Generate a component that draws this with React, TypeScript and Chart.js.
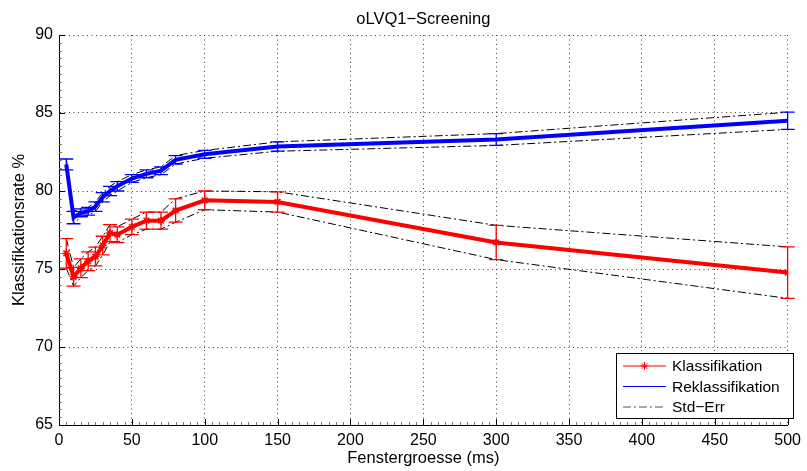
import React, { useEffect, useRef } from "react";
import { Chart, registerables } from "chart.js";

Chart.register(...registerables);

// ---- data ----
const windowSizes = [5, 10, 15, 20, 25, 30, 35, 40, 50, 60, 70, 80, 100, 150, 300, 500];
const klassMean = [76.0, 74.5, 75.05, 75.5, 75.8, 76.5, 77.3, 77.2, 77.7, 78.1, 78.1, 78.75, 79.4, 79.3, 76.7, 74.77];
const klassErr = [0.95, 0.6, 0.6, 0.6, 0.6, 0.6, 0.55, 0.5, 0.5, 0.55, 0.55, 0.75, 0.6, 0.65, 1.1, 1.65];
const reklassMean = [81.7, 78.3, 78.6, 78.7, 79.0, 79.6, 80.0, 80.3, 80.8, 81.1, 81.3, 82.0, 82.35, 82.85, 83.3, 84.5];
const reklassErr = [0.35, 0.4, 0.25, 0.25, 0.3, 0.3, 0.3, 0.3, 0.25, 0.25, 0.25, 0.27, 0.25, 0.3, 0.38, 0.55];

const xMin = 0;
const xMax = 500;
const xStep = 50;
const yMin = 65;
const yMax = 90;
const yStep = 5;

const titleText = "oLVQ1\u2212Screening";
const xTitle = "Fenstergroesse (ms)";
const yTitle = "Klassifikationsrate %";
const legendLabels = ["Klassifikation", "Reklassifikation", "Std\u2212Err"];

const FONT = '"Liberation Sans", Arial, Helvetica, sans-serif';
const RED = "#ff0000";
const BLUE = "#0000ff";
const DASHDOT = [8, 3, 2, 3];

const pts = (ys: number[]) => windowSizes.map((x, i) => ({ x, y: ys[i] }));
const plus = (m: number[], e: number[]) => m.map((v, i) => v + e[i]);
const minus = (m: number[], e: number[]) => m.map((v, i) => v - e[i]);

function drawStar(ctx: CanvasRenderingContext2D, x: number, y: number, r: number) {
  ctx.beginPath();
  for (let k = 0; k < 4; k++) {
    const a = (k * Math.PI) / 4;
    ctx.moveTo(x - Math.cos(a) * r, y - Math.sin(a) * r);
    ctx.lineTo(x + Math.cos(a) * r, y + Math.sin(a) * r);
  }
  ctx.stroke();
}

const errorBarPlugin = {
  id: "errorBars",
  afterDatasetsDraw(chart: any) {
    const { ctx, scales } = chart;
    const x = scales.x;
    const y = scales.y;
    const sets = [
      { mean: reklassMean, err: reklassErr, color: BLUE },
      { mean: klassMean, err: klassErr, color: RED },
    ];
    ctx.save();
    ctx.lineWidth = 1.3;
    sets.forEach((s) => {
      ctx.strokeStyle = s.color;
      windowSizes.forEach((wx, i) => {
        const px = x.getPixelForValue(wx);
        const top = y.getPixelForValue(s.mean[i] + s.err[i]);
        const bot = y.getPixelForValue(s.mean[i] - s.err[i]);
        ctx.beginPath();
        ctx.moveTo(px, top);
        ctx.lineTo(px, bot);
        ctx.moveTo(px - 7, top);
        ctx.lineTo(px + 7, top);
        ctx.moveTo(px - 7, bot);
        ctx.lineTo(px + 7, bot);
        ctx.stroke();
      });
    });
    ctx.restore();
  },
};

const decorPlugin = {
  id: "decor",
  afterDraw(chart: any) {
    const { ctx, chartArea, scales } = chart;
    const x = scales.x;
    const y = scales.y;
    const { left, right, top, bottom } = chartArea;
    ctx.save();
    // minor ticks
    ctx.strokeStyle = "#777";
    ctx.lineWidth = 1;
    ctx.beginPath();
    for (let v = yMin; v <= yMax + 1e-9; v += 0.5) {
      const py = Math.round(y.getPixelForValue(v)) + 0.5;
      ctx.moveTo(left, py);
      ctx.lineTo(left + 3, py);
    }
    for (let v = xMin; v <= xMax + 1e-9; v += 5) {
      const px = Math.round(x.getPixelForValue(v)) + 0.5;
      ctx.moveTo(px, bottom);
      ctx.lineTo(px, bottom - 3);
    }
    ctx.stroke();
    // major ticks (inward)
    ctx.strokeStyle = "#000";
    ctx.beginPath();
    for (let v = yMin; v <= yMax + 1e-9; v += yStep) {
      const py = Math.round(y.getPixelForValue(v)) + 0.5;
      ctx.moveTo(left, py);
      ctx.lineTo(left + 6, py);
    }
    for (let v = xMin; v <= xMax + 1e-9; v += xStep) {
      const px = Math.round(x.getPixelForValue(v)) + 0.5;
      ctx.moveTo(px, bottom);
      ctx.lineTo(px, bottom - 6);
    }
    ctx.stroke();

    // title
    ctx.fillStyle = "#000";
    ctx.font = `16.5px ${FONT}`;
    ctx.textAlign = "center";
    ctx.textBaseline = "middle";
    ctx.fillText(titleText, (left + right) / 2, 19);

    // legend
    const bx = 616, by = 353, bw = 177, bh = 65;
    ctx.fillStyle = "#fff";
    ctx.fillRect(bx, by, bw, bh);
    ctx.strokeStyle = "#000";
    ctx.lineWidth = 1;
    ctx.strokeRect(bx + 0.5, by + 0.5, bw, bh);
    const rows = [366, 386.5, 407];
    const x1 = 623, x2 = 666, tx = 672;
    // row 1
    ctx.strokeStyle = RED;
    ctx.lineWidth = 1;
    ctx.beginPath();
    ctx.moveTo(x1, rows[0]);
    ctx.lineTo(x2, rows[0]);
    ctx.stroke();
    drawStar(ctx, (x1 + x2) / 2, rows[0], 4);
    // row 2
    ctx.strokeStyle = BLUE;
    ctx.beginPath();
    ctx.moveTo(x1, rows[1]);
    ctx.lineTo(x2, rows[1]);
    ctx.stroke();
    // row 3
    ctx.strokeStyle = "#555";
    ctx.setLineDash(DASHDOT);
    ctx.beginPath();
    ctx.moveTo(x1, rows[2]);
    ctx.lineTo(x2, rows[2]);
    ctx.stroke();
    ctx.setLineDash([]);
    ctx.fillStyle = "#000";
    ctx.font = `15.5px ${FONT}`;
    ctx.textAlign = "left";
    ctx.textBaseline = "middle";
    legendLabels.forEach((t, i) => ctx.fillText(t, tx, rows[i] + 1));
    ctx.restore();
  },
};

export default function App() {
  const ref = useRef<HTMLCanvasElement | null>(null);
  useEffect(() => {
    if (!ref.current) return;
    const stdLine = (data: number[]) => ({
      data: pts(data),
      borderColor: "#000",
      borderWidth: 1,
      borderDash: DASHDOT,
      pointRadius: 0,
      fill: false,
      tension: 0,
    });
    const chart = new Chart(ref.current, {
      type: "line",
      data: {
        datasets: [
          {
            label: legendLabels[0],
            data: pts(klassMean),
            borderColor: RED,
            backgroundColor: RED,
            borderWidth: 4,
            pointStyle: "star",
            pointRadius: 4,
            pointBorderWidth: 1.5,
            pointBorderColor: RED,
            fill: false,
            tension: 0,
          },
          {
            label: legendLabels[1],
            data: pts(reklassMean),
            borderColor: BLUE,
            backgroundColor: BLUE,
            borderWidth: 4,
            pointRadius: 0,
            fill: false,
            tension: 0,
          },
          stdLine(plus(klassMean, klassErr)),
          stdLine(minus(klassMean, klassErr)),
          stdLine(plus(reklassMean, reklassErr)),
          stdLine(minus(reklassMean, reklassErr)),
        ] as any,
      },
      plugins: [errorBarPlugin, decorPlugin],
      options: {
        animation: false,
        responsive: false,
        maintainAspectRatio: false,
        layout: { padding: { top: 35, right: 14, left: 0, bottom: 0 } },
        plugins: {
          legend: { display: false },
          title: { display: false },
          tooltip: { enabled: false },
        },
        scales: {
          x: {
            type: "linear",
            min: xMin,
            max: xMax,
            afterFit: (s: any) => {
              s.height = 46;
            },
            ticks: {
              stepSize: xStep,
              color: "#000",
              font: { family: FONT, size: 16 },
              padding: 6,
              maxRotation: 0,
            },
            grid: { color: "rgba(0,0,0,0.75)", lineWidth: 1, drawTicks: false },
            border: { display: true, color: "#000", width: 1, dash: [1, 3.5] },
            title: {
              display: true,
              text: xTitle,
              color: "#000",
              font: { family: FONT, size: 16.5 },
              padding: { top: 0, bottom: 3 },
            },
          },
          y: {
            type: "linear",
            min: yMin,
            max: yMax,
            afterFit: (s: any) => {
              s.width = 59;
            },
            ticks: {
              stepSize: yStep,
              color: "#000",
              font: { family: FONT, size: 16 },
              padding: 6,
            },
            grid: { color: "rgba(0,0,0,0.75)", lineWidth: 1, drawTicks: false },
            border: { display: true, color: "#000", width: 1, dash: [1, 3.5] },
            title: {
              display: true,
              text: yTitle,
              color: "#000",
              font: { family: FONT, size: 16.5 },
              padding: { top: 10, bottom: 0 },
            },
          },
        },
      } as any,
    });
    return () => chart.destroy();
  }, []);
  return (
    <div style={{ position: "absolute", left: 0, top: 0, width: 807, height: 471 }}>
      <canvas ref={ref} width={807} height={471} />
    </div>
  );
}
